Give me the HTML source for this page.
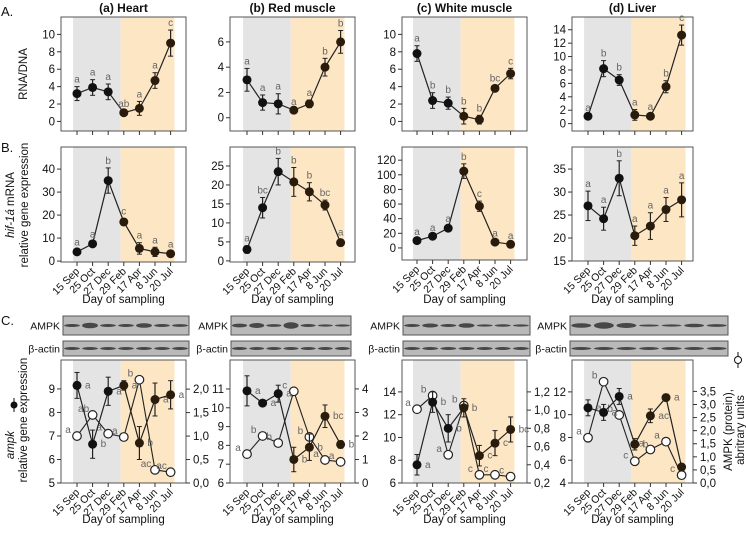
<!DOCTYPE html>
<html><head><meta charset="utf-8"><style>
body{margin:0;background:#fff;}
svg{display:block;font-family:"Liberation Sans",sans-serif;}
</style></head><body>
<svg id="fig" width="746" height="533" viewBox="0 0 746 533"></svg>
<script>
const categories=["15 Sep","25 Oct","27 Dec","29 Feb","17 Apr","8 Jun","20 Jul"];
const colTitles=["(a) Heart","(b) Red muscle","(c) White muscle","(d) Liver"];
// Row A RNA/DNA
const rnaHeart=[3.2,3.9,3.4,1.0,1.5,4.7,9.0], rnaHeartErr=[0.8,0.9,0.9,0.2,0.8,0.9,1.5], rnaHeartLet=["a","a","a","ab","a","a","c"];
const rnaRed=[3.0,1.2,1.1,0.6,1.1,4.0,6.0], rnaRedErr=[0.9,0.6,0.8,0.1,0.3,0.7,0.9], rnaRedLet=["a","a","a","a","a","b","b"];
const rnaWhite=[7.8,2.4,2.1,0.6,0.2,3.8,5.5], rnaWhiteErr=[0.9,0.9,0.7,0.9,0.5,0.3,0.6], rnaWhiteLet=["a","b","b","b","b","bc","c"];
const rnaLiver=[1.1,8.2,6.5,1.3,1.1,5.5,13.2], rnaLiverErr=[0.2,1.2,0.8,0.8,0.3,0.9,1.5], rnaLiverLet=["a","b","b","a","a","b","c"];
// Row B hif-1a
const hifHeart=[4,7.5,35,17,5.5,4,3.2], hifHeartErr=[1,1,5.5,1.5,2.5,2,1], hifHeartLet=["a","a","b","c","a","a","a"];
const hifRed=[3,14,23.5,20.8,18.2,14.7,4.8], hifRedErr=[1,2.7,3.5,3.8,2.4,1.3,0.8], hifRedLet=["a","bc","b","b","b","bc","a"];
const hifWhite=[10,16,27,105,57,8,5], hifWhiteErr=[2,2,3,10,7,2,2], hifWhiteLet=["a","a","a","b","c","a","a"];
const hifLiver=[27,24.2,33,20.5,22.6,26.2,28.3], hifLiverErr=[3.2,2.5,3.8,2.1,2.9,2.6,3.7], hifLiverLet=["a","a","b","a","a","a","a"];
// Row C ampk mRNA (filled) and AMPK protein (open)
const ampkHeart=[9.15,6.65,8.9,9.15,6.7,8.55,8.75], ampkHeartErr=[0.55,0.6,0.6,0.2,0.7,0.7,0.6], ampkHeartLet=["a","b","a","a","b","a","a"];
const protHeart=[1.0,1.45,1.05,0.98,2.2,0.28,0.23], protHeartLet=["a","ab","a","a","b","ac","ac"];
const ampkRed=[10.9,10.25,10.75,7.25,7.9,9.55,8.05], ampkRedErr=[0.8,0.15,0.45,0.65,0.7,0.6,0.2], ampkRedLet=["a","a","a","b","b","bc","b"];
const protRed=[1.23,2.0,1.7,3.9,1.96,0.98,0.9], protRedLet=["a","b","b","c","b","a","a"];
const ampkWhite=[7.6,13.1,10.8,12.6,8.4,9.5,10.7], ampkWhiteErr=[0.9,0.9,1.2,0.8,0.9,1.1,1.1], ampkWhiteLet=["a","b","b","b","c","c","bc"];
const protWhite=[1.01,1.16,0.51,1.05,0.29,0.29,0.27], protWhiteLet=["a","b","a","b","c","c","c"];
const ampkLiver=[10.6,10.2,11.6,7.4,9.9,11.5,5.4], ampkLiverErr=[0.7,0.7,0.7,0.5,0.6,0.3,0.2], ampkLiverLet=["a","a","a","b","ac","a",""];
const protLiver=[1.73,3.87,2.6,0.83,1.28,1.58,0.3], protLiverLet=["a","b","b","c","a","a","c"];
// tick labels
const ticksA=[[0,2,4,6,8,10],[0,2,4,6],[0,2,4,6,8,10],[0,2,4,6,8,10,12,14]];
const ticksB=[[0,10,20,30,40],[0,5,10,15,20,25],[0,20,40,60,80,100,120],[15,20,25,30,35]];
const ticksCL=[[5,6,7,8,9],[6,7,8,9,10,11],[6,8,10,12,14],[4,6,8,10,12]];
const ticksCR=[["0,0","0,5","1,0","1,5","2,0"],["0","1","2","3","4"],["0,2","0,4","0,6","0,8","1,0","1,2"],["0,0","0,5","1,0","1,5","2,0","2,5","3,0","3,5"]];

const NS="http://www.w3.org/2000/svg", svg=document.getElementById("fig");
function mk(tag,attrs,parent,txt){const e=document.createElementNS(NS,tag);for(const k in attrs)e.setAttribute(k,attrs[k]);if(txt!==undefined)e.textContent=txt;(parent||svg).appendChild(e);return e;}
const cols=[{x0:77,fl:61,fr:186},{x0:247,fl:230,fr:355},{x0:417,fl:402,fr:527},{x0:588,fl:572,fr:693}];
const SP=15.6;
function panel(ci,row,top,bot,dom,vals,errs,lets,ticks,opts){
  const c=cols[ci];
  const g=mk("g",{});
  
  
  const xs=i=>c.x0+SP*i;
  const ys=v=>bot-(v-dom[0])/(dom[1]-dom[0])*(bot-top);
  mk("rect",{x:xs(-0.25),y:top,width:xs(2.8)-xs(-0.25),height:bot-top,fill:"#e4e4e4"},g);
  mk("rect",{x:xs(2.8),y:top,width:xs(6.25)-xs(2.8),height:bot-top,fill:"#fde6c4"},g);
  mk("rect",{x:c.fl,y:top,width:c.fr-c.fl,height:bot-top,fill:"none",stroke:"#555","stroke-width":1},g);
  ticks.forEach(t=>{const y=ys(t);mk("line",{x1:c.fl-4,x2:c.fl,y1:y,y2:y,stroke:"#333"},g);
    const tx=mk("text",{x:c.fl-6,y:y+4,"text-anchor":"end","font-size":11.5,fill:"#111"},g,String(t));
    });
  categories.forEach((cat,i)=>{const x=xs(i);mk("line",{x1:x,x2:x,y1:bot,y2:bot+4,stroke:"#333"},g);
    if(opts.xlabels){const t=mk("text",{x:x+3,y:bot+10,"text-anchor":"end","font-size":10.5,fill:"#111",transform:`rotate(-45 ${x+3} ${bot+10})`},g,cat);
      }});
  if(opts.xlabels){const t=mk("text",{x:(c.fl+c.fr)/2,y:bot+(opts.xt||41),"text-anchor":"middle","font-size":11.5,fill:"#111"},g,"Day of sampling");
    }
  if(opts.right){const r=opts.right;const yr=v=>bot-(v-r.dom[0])/(r.dom[1]-r.dom[0])*(bot-top);
    r.ticks.forEach(t=>{const y=yr(parseFloat(String(t).replace(",",".")));mk("line",{x1:c.fr,x2:c.fr+4,y1:y,y2:y,stroke:"#333"},g);
      const tx=mk("text",{x:c.fr+7,y:y+4,"font-size":11.5,fill:"#111"},g,String(t));});
    mk("polyline",{points:r.vals.map((v,i)=>xs(i)+","+yr(v)).join(" "),fill:"none",stroke:"#222","stroke-width":1.1},g);
    r.vals.forEach((v,i)=>{const p=mk("circle",{cx:xs(i),cy:yr(v),r:4.3,fill:"#fff",stroke:"#222","stroke-width":1.2},g);
      
      if(r.lets[i])mk("text",{x:xs(i)-9,y:yr(v)-3,"font-size":10,fill:"#666","text-anchor":"middle"},g,r.lets[i]);});
  }
  mk("polyline",{points:vals.map((v,i)=>xs(i)+","+ys(v)).join(" "),fill:"none",stroke:"#222","stroke-width":1.2},g);
  vals.forEach((v,i)=>{const x=xs(i),e=errs[i];
    mk("line",{x1:x,x2:x,y1:ys(v-e),y2:ys(v+e),stroke:"#222","stroke-width":1.2},g);
    mk("line",{x1:x-2.5,x2:x+2.5,y1:ys(v-e),y2:ys(v-e),stroke:"#222"},g);
    mk("line",{x1:x-2.5,x2:x+2.5,y1:ys(v+e),y2:ys(v+e),stroke:"#222"},g);
    const p=mk("circle",{cx:x,cy:ys(v),r:4.5,fill:i>=3?"#2a1c0c":"#111"},g);
    
    if(lets[i]){opts.right?mk("text",{x:x+8,y:ys(v)+3,"font-size":10,fill:"#666"},g,lets[i]):mk("text",{x:x,y:ys(v+e)-4,"font-size":10,fill:"#666","text-anchor":"middle"},g,lets[i]);}
  });
}
// titles
colTitles.forEach((t,i)=>{const c=cols[i];const e=mk("text",{x:(c.fl+c.fr)/2,y:12,"text-anchor":"middle","font-size":12,"font-weight":"bold",fill:"#111"},svg,t);
  });
[["A.",16],["B.",152],["C.",325]].forEach(([t,y])=>{const e=mk("text",{x:1,y:y,"font-size":13,fill:"#111"},svg,t);});
// Row A
panel(0,"a",17,131,[-1.1,12],rnaHeart,rnaHeartErr,rnaHeartLet,ticksA[0],{});
panel(1,"a",17,131,[-1.05,7.97],rnaRed,rnaRedErr,rnaRedLet,ticksA[1],{});
panel(2,"a",17,131,[-1.1,12],rnaWhite,rnaWhiteErr,rnaWhiteLet,ticksA[2],{});
panel(3,"a",17,131,[-1.1,15.9],rnaLiver,rnaLiverErr,rnaLiverLet,ticksA[3],{});
// Row B
panel(0,"b",147,262,[-0.4,49.6],hifHeart,hifHeartErr,hifHeartLet,ticksB[0],{xlabels:true});
panel(1,"b",147,262,[-0.3,30],hifRed,hifRedErr,hifRedLet,ticksB[1],{xlabels:true});
panel(2,"b",147,260,[-16.5,138],hifWhite,hifWhiteErr,hifWhiteLet,ticksB[2],{xlabels:true,xt:43});
panel(3,"b",147,261,[15,39.8],hifLiver,hifLiverErr,hifLiverLet,ticksB[3],{xlabels:true,xt:42});
// Row C
panel(0,"c",360,483,[5,10.23],ampkHeart,ampkHeartErr,ampkHeartLet,ticksCL[0],{xlabels:true,xt:40,right:{dom:[0,2.62],ticks:ticksCR[0],vals:protHeart,lets:protHeartLet}});
panel(1,"c",360,483,[6,12.54],ampkRed,ampkRedErr,ampkRedLet,ticksCL[1],{xlabels:true,xt:40,right:{dom:[0,5.23],ticks:ticksCR[1],vals:protRed,lets:protRedLet}});
panel(2,"c",360,483,[6,16.8],ampkWhite,ampkWhiteErr,ampkWhiteLet,ticksCL[2],{xlabels:true,xt:40,right:{dom:[0.2,1.55],ticks:ticksCR[2],vals:protWhite,lets:protWhiteLet}});
panel(3,"c",360,483,[4,14.8],ampkLiver,ampkLiverErr,ampkLiverLet,ticksCL[3],{xlabels:true,xt:40,right:{dom:[0,4.7],ticks:ticksCR[3],vals:protLiver,lets:protLiverLet}});
// axis titles
function vt(x,y,txt,name,extra){const t=mk("text",Object.assign({x:x,y:y,"text-anchor":"middle","font-size":11.5,fill:"#111",transform:`rotate(-90 ${x} ${y})`},extra||{}),svg,txt);return t;}
vt(27,74,"RNA/DNA","y-axis-title-rna");
const hb=vt(14,205,"","y-axis-title-hif");mk("tspan",{"font-style":"italic"},hb,"hif-1á");mk("tspan",{},hb," mRNA");
vt(28,205,"relative gene expression","y-axis-title-hif-2");
const ab=vt(14,445,"","y-axis-title-ampk");mk("tspan",{"font-style":"italic"},ab,"ampk");
vt(27,420,"relative gene expression","y-axis-title-ampk-2");
mk("line",{x1:14,x2:14,y1:398,y2:412,stroke:"#111"});mk("circle",{cx:14,cy:405,r:3.5,fill:"#111"});
vt(732,430,"AMPK (protein),","right-axis-title");
vt(744,430,"abritrary units","right-axis-title-2");
mk("line",{x1:738,x2:738,y1:352,y2:368,stroke:"#111"});mk("circle",{cx:738,cy:360,r:3.5,fill:"#fff",stroke:"#111"});
// blots
const blots=[{l:63,r:189},{l:231,r:351},{l:403,r:530},{l:570,r:728}];
const ampkBand=[[0.6,1.8,0.6,0.6,1.3,0.6,0.5],[1,1.5,0.5,2.2,0.6,0.3,0.3],[0.6,1.1,0.6,1.3,0.3,0.4,0.3],[1.3,2.2,1.5,0.2,0.3,0.9,0.5]];
blots.forEach((b,i)=>{
  [[316,335,"AMPK",ampkBand[i]],[341,356,"β-actin",[0.6,0.6,0.6,0.6,0.6,0.6,0.6]]].forEach(([t,bt,lab,bands])=>{
    const r=mk("rect",{x:b.l,y:t,width:b.r-b.l,height:bt-t,fill:"#b9b9b9",stroke:"#555"});
    
    const w=(b.r-b.l)/7;
    bands.forEach((s,k)=>mk("ellipse",{cx:b.l+w*(k+0.5),cy:(t+bt)/2,rx:w*0.44,ry:0.8+s*1.1,fill:"#333",opacity:0.85}));
    const tx=mk("text",{x:b.l-3,y:(t+bt)/2+4,"text-anchor":"end","font-size":10.5,fill:"#111"},svg,lab);
    
  });
});
</script>
</body></html>
